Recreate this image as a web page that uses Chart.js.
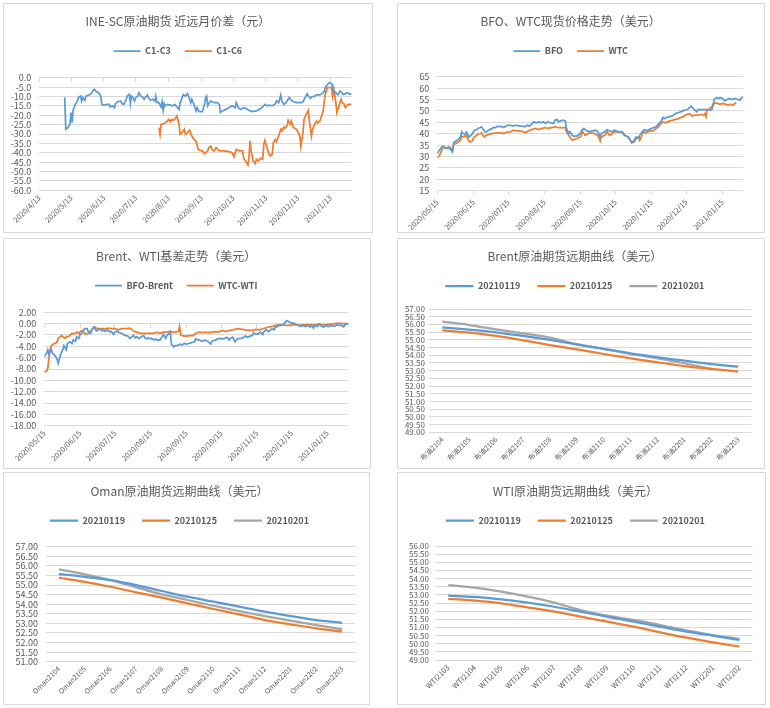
<!DOCTYPE html>
<html lang="zh">
  <head>
    <meta charset="UTF-8" />
    <script src="https://cdn.jsdelivr.net/npm/chart.js"></script>
    <title>原油期货价差与远期曲线</title>
    <style>
      body { margin: 0; background: #fff; width: 770px; height: 708px; position: relative; overflow: hidden; }
      .panel { position: absolute; border: 1px solid #d9d9d9; }
      .panel canvas { display: block; }
    </style>
  </head>
  <body>
    <div class="panel" style="left: 3px; top: 3px"><canvas id="c1" width="368" height="228"></canvas></div>
    <div class="panel" style="left: 397px; top: 3px"><canvas id="c2" width="366" height="228"></canvas></div>
    <div class="panel" style="left: 3px; top: 238px"><canvas id="c3" width="366" height="229"></canvas></div>
    <div class="panel" style="left: 397px; top: 238px"><canvas id="c4" width="366" height="229"></canvas></div>
    <div class="panel" style="left: 3px; top: 472px"><canvas id="c5" width="365" height="231"></canvas></div>
    <div class="panel" style="left: 397px; top: 472px"><canvas id="c6" width="367" height="231"></canvas></div>

    <script>
      // ---------- data ----------
      // INE-SC spreads, [days since 2020/4/13, value]
      const scStart = "2020/4/13";
      const scTicks = ["2020/4/13", "2020/5/13", "2020/6/13", "2020/7/13", "2020/8/13", "2020/9/13", "2020/10/13", "2020/11/13", "2020/12/13", "2021/1/13"];
      const scC1C3 = [[24,-10.6],[25,-27.5],[27,-26.6],[29,-24.8],[30,-18.6],[31,-24],[32,-16.9],[33,-16],[34,-14.2],[36,-12.4],[37,-10.6],[39,-9.8],[40,-12.4],[41,-10.6],[43,-12],[44,-9.8],[47,-9.2],[49,-8.5],[51,-6.7],[52,-6.2],[54,-7.5],[56,-8],[58,-9.8],[59,-14.2],[61,-14.7],[64,-14.2],[66,-14.2],[67,-15.6],[69,-15],[71,-16],[72,-13.7],[74,-12.8],[77,-12.4],[78,-13.8],[80,-14.2],[82,-11.5],[83,-9.8],[85,-8.9],[86,-13.8],[87,-9.8],[88,-10.3],[90,-12.4],[91,-10.6],[93,-9.8],[94,-8],[96,-9.8],[98,-10.6],[99,-11.5],[102,-9.2],[103,-10.6],[105,-12],[107,-11.5],[109,-12.4],[110,-9.8],[111,-13.3],[113,-13.3],[115,-15.6],[116,-12.8],[117,-17.4],[118,-13.8],[119,-15],[121,-14.2],[124,-14.6],[126,-15],[128,-14.2],[130,-15.6],[132,-16.9],[133,-13.3],[136,-8.9],[138,-9.8],[140,-8.5],[142,-11.5],[143,-13.3],[144,-11.5],[146,-14.2],[148,-17.7],[149,-16],[151,-18.1],[154,-18.1],[156,-14.2],[157,-10.6],[158,-9.8],[159,-15],[161,-12.8],[162,-12.4],[165,-13.3],[168,-13.3],[170,-14.2],[171,-18.6],[173,-17.7],[176,-16.9],[179,-16],[182,-15],[185,-16],[186,-13.3],[188,-16],[190,-16.9],[193,-16],[195,-16.3],[198,-17.4],[201,-18.1],[205,-17.7],[208,-16.9],[211,-15.6],[213,-14.2],[215,-15],[217,-14.6],[220,-15],[223,-13.8],[224,-12.4],[226,-13.3],[228,-9.2],[229,-12.4],[231,-14.2],[233,-13.3],[235,-11.5],[236,-10.6],[238,-12],[240,-12.8],[243,-13.3],[245,-13.3],[247,-13.3],[249,-12.8],[251,-10.6],[253,-8.5],[254,-9.8],[256,-11],[257,-10.3],[260,-9.8],[262,-9.2],[265,-9.2],[267,-8.5],[269,-7.5],[270,-5.3],[272,-3.6],[274,-2.6],[276,-3.2],[277,-6.2],[279,-7.5],[281,-8.5],[282,-9.2],[284,-7.1],[285,-7.5],[287,-8.9],[289,-8.5],[291,-8],[292,-8.5],[295,-8.9]];
      const scC1C6 = [[113,-26.6],[114,-30.2],[115,-24.9],[117,-24.5],[119,-24],[121,-23.1],[122,-22.2],[124,-23.4],[125,-22.2],[127,-22.7],[129,-21.3],[130,-20.4],[132,-24.9],[133,-30.2],[135,-29.3],[137,-27.5],[138,-30.2],[140,-29.3],[142,-28],[144,-31.1],[146,-32.8],[148,-33.7],[150,-38.2],[152,-38.7],[154,-39],[156,-40.5],[159,-39],[160,-37.3],[162,-36.4],[163,-38.2],[165,-39],[167,-37.3],[170,-39],[174,-39],[179,-39.4],[182,-39.9],[184,-42.2],[186,-38.2],[189,-39],[192,-39],[193,-42.9],[195,-44.7],[197,-46.5],[198,-42.6],[199,-33.7],[200,-39],[202,-44.4],[204,-45.8],[205,-43.5],[207,-44.4],[209,-42.9],[211,-43.5],[212,-35.5],[213,-33.4],[215,-37.3],[217,-40.8],[218,-41.7],[220,-40.8],[221,-34.6],[223,-32.8],[224,-34.1],[226,-31.1],[228,-27.5],[229,-28.4],[231,-26.3],[232,-27],[234,-25.7],[235,-22.7],[237,-24.9],[238,-23.1],[240,-26.6],[243,-27.5],[244,-28.8],[246,-31.1],[247,-36.4],[249,-29.3],[250,-22.2],[252,-19.5],[254,-17.4],[255,-23.1],[257,-31.1],[258,-27.5],[260,-24.9],[262,-23.1],[263,-24],[265,-23.1],[266,-21.3],[268,-17.7],[269,-13.3],[270,-8.9],[272,-5.3],[274,-5.3],[276,-5.3],[277,-9.8],[278,-5.7],[280,-13.3],[281,-18.6],[283,-15],[285,-11.5],[286,-13.3],[288,-14.2],[289,-16],[291,-14.6],[293,-14.2],[295,-14.2]];

      // BFO / WTC spot and basis, [days since 2020/5/15, value]
      const spotStart = "2020/5/15";
      const spotTicks = ["2020/05/15", "2020/06/15", "2020/07/15", "2020/08/15", "2020/09/15", "2020/10/15", "2020/11/15", "2020/12/15", "2021/01/15"];
      const bfo = [[0,31.3],[2,33],[4,34.2],[5,34.5],[7,33.5],[9,33.9],[10,33.9],[12,32.7],[13,32],[14,36],[16,36.8],[18,37.4],[20,38.6],[21,40.8],[22,40.1],[24,39.8],[25,40.8],[27,38.6],[28,38.9],[30,39.8],[31,40.8],[32,41.5],[34,41.8],[35,42.3],[37,42.7],[38,43],[40,41.5],[41,40.8],[42,40.8],[44,41.5],[45,41.8],[47,42.3],[48,42.7],[50,42.7],[51,43],[52,43.3],[54,43],[55,43.3],[57,42.7],[58,43],[60,43.7],[63,43.7],[65,43.3],[67,43.7],[69,43.7],[71,43.3],[73,43.3],[75,43],[77,43.7],[79,43.3],[81,44.2],[83,45.2],[85,44.8],[87,45.2],[89,44.8],[91,45.2],[93,44.5],[95,45.2],[97,44.8],[100,44.5],[101,45.9],[103,46.2],[104,45.2],[106,45.6],[108,45.9],[110,45.6],[111,42.3],[113,40.1],[114,40.8],[116,39.3],[117,38.9],[120,38.9],[121,39.3],[123,40.1],[124,41.5],[126,42.3],[127,41.8],[130,40.8],[133,41.2],[136,41.5],[138,40.8],[140,38.6],[141,40.1],[144,40.8],[146,41.8],[148,41.2],[150,40.8],[152,41.5],[154,41.2],[156,40.8],[159,40.8],[160,40.1],[161,39.3],[164,38.6],[166,37.1],[167,36.4],[169,36.8],[170,37.9],[171,38.6],[173,37.9],[174,39.3],[176,40.8],[178,41.8],[180,41.2],[182,41.8],[184,42.3],[186,42.7],[188,43],[190,44.2],[192,45.2],[194,47.1],[195,46.6],[197,47.1],[199,47.4],[201,47.7],[203,48.1],[205,48.9],[207,49.2],[209,49.6],[211,50],[212,50.3],[215,50.6],[217,51.5],[218,52.1],[219,51.5],[221,50.6],[223,49.6],[224,50.6],[226,50.6],[229,50.6],[232,50.6],[234,50.3],[236,50.6],[237,52.5],[238,55],[240,55.9],[242,55.5],[243,55.9],[245,55.5],[247,54.4],[249,55],[251,55.5],[253,55],[256,55.5],[258,55],[260,54.7],[261,55.5],[263,56.2]];
      const wtc = [[0,29.5],[2,30.5],[4,33],[5,34.2],[7,33.9],[9,33.5],[10,34.2],[12,33.5],[13,32.4],[14,35.4],[16,35.7],[18,36.4],[20,37.1],[21,38.9],[22,38.6],[24,38.9],[25,39.3],[27,36.8],[28,36.4],[30,36.8],[31,37.9],[32,38.6],[34,39.3],[35,39.8],[37,40.1],[38,40.4],[40,38.6],[41,38.9],[42,39.3],[45,39.8],[48,40.1],[51,40.4],[54,40.4],[57,40.1],[60,40.7],[63,40.8],[65,41.5],[68,41.2],[71,41.2],[74,40.8],[76,40.4],[78,41.2],[81,41.8],[84,42.3],[87,41.8],[90,42.3],[93,42.7],[95,42.3],[98,42.7],[101,43],[104,42.7],[107,42.7],[110,42.7],[111,40.8],[114,38.6],[116,37.1],[117,37.4],[120,37.9],[123,38.6],[125,40.8],[127,39.3],[130,40.1],[133,40.4],[136,39.8],[138,39.3],[140,36.8],[141,38.6],[144,39.3],[146,40.8],[148,39.3],[150,39.8],[152,40.8],[154,40.8],[157,40.8],[159,40.4],[161,39.3],[163,38.9],[165,37.9],[167,36],[169,36.4],[170,37.1],[171,37.9],[173,38.6],[174,37.1],[176,39.3],[177,40.8],[179,40.4],[181,40.8],[183,41.2],[185,41.2],[187,41.8],[190,43],[192,44.2],[194,45.2],[196,44.8],[198,45.2],[200,45.6],[202,45.9],[204,46.2],[207,46.6],[209,47.1],[211,47.4],[213,48.1],[215,48.5],[217,48.8],[219,47.7],[221,48.1],[224,48.1],[227,48.5],[229,48.1],[230,48.8],[231,47.4],[232,50.3],[234,51],[236,51.8],[237,52.9],[239,53.5],[241,53.3],[243,52.9],[245,53.3],[248,52.9],[250,52.5],[252,52.9],[254,52.5],[256,53.3],[257,53.5]];
      const bfoBrent = [[0,-5.8],[2,-5.2],[3,-4.6],[4,-5.4],[6,-4.5],[7,-5.2],[9,-5.6],[11,-6.2],[12,-7],[14,-5.5],[16,-4.6],[17,-3.9],[19,-4.6],[20,-3.5],[22,-3.2],[24,-3.5],[25,-2.9],[27,-3.1],[28,-2.3],[30,-2.6],[31,-1.9],[32,-1.8],[34,-1.1],[35,-0.9],[37,-0.9],[38,-1.4],[40,-1.7],[41,-1.1],[43,-0.6],[44,-0.9],[45,-1.3],[47,-1.1],[48,-0.9],[50,-1.3],[51,-1.1],[53,-1.4],[54,-1.1],[56,-1.3],[57,-1.5],[58,-1.4],[60,-1.9],[61,-1.5],[63,-1.3],[64,-1.5],[67,-1.7],[69,-2],[71,-2.1],[73,-2.3],[74,-2.6],[76,-2.3],[77,-2.1],[79,-2.5],[80,-2.3],[82,-2.6],[84,-2.3],[86,-2.1],[87,-2.5],[89,-2.7],[90,-2.5],[92,-2.7],[93,-2.6],[95,-2.9],[96,-2.7],[98,-2.9],[100,-2.9],[102,-2.3],[103,-1.9],[105,-2.6],[106,-2.1],[108,-1.7],[109,-1.5],[110,-3.6],[112,-4.1],[113,-3.9],[116,-3.8],[118,-3.6],[119,-3.8],[121,-3.5],[123,-3.6],[125,-3.5],[128,-3.3],[130,-3.2],[131,-2.7],[134,-2.9],[137,-3.1],[139,-2.9],[142,-3.2],[144,-3.6],[145,-3.1],[148,-2.9],[150,-2.7],[152,-2.6],[154,-2.7],[156,-2.6],[158,-2.4],[160,-2.9],[161,-2.6],[163,-2.4],[165,-3.2],[167,-2.7],[169,-2.6],[171,-2.6],[174,-2.2],[176,-2.4],[178,-2.2],[180,-2.1],[181,-1.6],[183,-1.9],[185,-1.8],[187,-1.5],[189,-1.9],[190,-1.4],[192,-1.1],[194,-1.4],[197,-0.9],[199,-1.1],[200,-0.6],[202,-0.5],[203,-0.3],[205,-0.3],[207,-0.1],[209,0.4],[210,0.5],[212,0.3],[214,0.1],[216,0.1],[218,-0.2],[220,-0.3],[222,-0.5],[223,-0.3],[226,-0.5],[228,-0.3],[230,-0.6],[231,-0.3],[233,-0.8],[234,-0.3],[236,-0.5],[238,-0.1],[240,-0.5],[242,-0.6],[244,-0.3],[246,-0.5],[249,-0.3],[251,-0.5],[253,-0.2],[255,-0.3],[257,-0.3],[259,-0.6],[260,-0.2],[262,-0.1],[264,0]];
      const wtcWti = [[0,-8.5],[2,-8.4],[3,-7.9],[4,-6.1],[5,-4.6],[6,-3.9],[8,-3.6],[9,-3.5],[11,-3.3],[12,-2.6],[14,-2.3],[15,-2.1],[17,-2.5],[18,-2.6],[19,-2.3],[21,-2.3],[22,-2.1],[24,-1.7],[25,-1.8],[27,-1.7],[28,-1.5],[30,-1.7],[31,-1.4],[32,-1.3],[34,-1.4],[35,-1.8],[37,-1.8],[38,-1.7],[41,-1.1],[43,-0.6],[44,-0.6],[45,-0.8],[47,-0.9],[50,-0.9],[53,-0.9],[56,-0.8],[58,-0.9],[61,-0.9],[64,-1.1],[67,-0.9],[70,-0.9],[73,-0.8],[75,-0.9],[77,-1.3],[80,-1.5],[83,-1.7],[86,-1.7],[89,-1.7],[92,-1.7],[95,-1.7],[97,-1.5],[100,-1.7],[103,-1.5],[106,-1.5],[108,-1.4],[109,-1.3],[110,-1.5],[113,-1.5],[116,-1.4],[117,-0.5],[118,-2],[121,-2.2],[123,-2.2],[126,-2.1],[129,-2.1],[131,-1.7],[134,-1.5],[137,-1.6],[139,-1.5],[142,-1.6],[145,-1.5],[148,-1.4],[151,-1.5],[154,-1.2],[157,-1.4],[160,-1.2],[163,-1.1],[165,-1],[168,-0.9],[171,-1],[174,-1.1],[177,-1.2],[180,-1.2],[183,-1],[186,-1.1],[189,-0.9],[191,-0.8],[194,-0.6],[197,-0.5],[200,-0.3],[203,-0.2],[206,-0.2],[209,-0.3],[212,-0.3],[215,-0.2],[217,-0.2],[220,-0.3],[223,-0.2],[226,-0.2],[229,-0.2],[232,-0.2],[235,-0.2],[238,-0.1],[241,-0.2],[244,-0.2],[246,-0.1],[249,-0.1],[252,0.05],[255,0.05],[258,0],[261,0],[264,0]];

      // forward curves
      const curveDates = ["20210119", "20210125", "20210201"];
      const brentMonths = ["布油2104", "布油2105", "布油2106", "布油2107", "布油2108", "布油2109", "布油2110", "布油2111", "布油2112", "布油2201", "布油2202", "布油2203"];
      const brent0119 = [55.81, 55.66, 55.49, 55.25, 54.99, 54.71, 54.41, 54.12, 53.87, 53.65, 53.43, 53.26];
      const brent0125 = [55.62, 55.46, 55.25, 54.97, 54.66, 54.38, 54.08, 53.8, 53.54, 53.3, 53.11, 52.94];
      const brent0201 = [56.18, 55.96, 55.68, 55.42, 55.14, 54.71, 54.41, 54.08, 53.8, 53.48, 53.11, null];
      const omanMonths = ["Oman2104", "Oman2105", "Oman2106", "Oman2107", "Oman2108", "Oman2109", "Oman2110", "Oman2111", "Oman2112", "Oman2201", "Oman2202", "Oman2203"];
      const oman0119 = [55.57, 55.43, 55.26, 55.0, 54.69, 54.39, 54.13, 53.87, 53.61, 53.38, 53.17, 53.03];
      const oman0125 = [55.38, 55.17, 54.91, 54.62, 54.34, 54.04, 53.75, 53.47, 53.17, 52.95, 52.74, 52.57];
      const oman0201 = [55.82, 55.56, 55.26, 54.88, 54.51, 54.22, 53.92, 53.64, 53.38, 53.14, 52.91, 52.7];
      const wtiMonths = ["WTI2103", "WTI2104", "WTI2105", "WTI2106", "WTI2107", "WTI2108", "WTI2109", "WTI2110", "WTI2111", "WTI2112", "WTI2201", "WTI2202"];
      const wti0119 = [52.95, 52.87, 52.72, 52.52, 52.27, 51.97, 51.66, 51.35, 51.05, 50.74, 50.49, 50.23];
      const wti0125 = [52.75, 52.64, 52.48, 52.23, 51.97, 51.66, 51.35, 51.05, 50.7, 50.37, 50.08, 49.82];
      const wti0201 = [53.6, 53.44, 53.2, 52.89, 52.52, 52.07, 51.72, 51.46, 51.15, 50.82, 50.53, 50.29];

      // ---------- styling ----------
      const BLUE = "#5b9bd5", ORANGE = "#ed7d31", GRAY = "#a5a5a5";
      const GRID = "#d9d9d9", TXT = "#595959";
      Chart.defaults.font.family = "'Noto Sans CJK SC', 'Noto Sans', sans-serif";
      Chart.defaults.color = TXT;

      function dayOf(s, start) {
        const p = s.split("/").map(Number), q = start.split("/").map(Number);
        return Math.round((Date.UTC(p[0], p[1] - 1, p[2]) - Date.UTC(q[0], q[1] - 1, q[2])) / 864e5);
      }

      // date axis as linear days, ticks on the monthly labels
      function timeAxis(start, labels, end, showTicks) {
        const days = labels.map((t) => dayOf(t, start));
        return {
          type: "linear", min: 0, max: dayOf(end, start),
          afterBuildTicks: (s) => { s.ticks = days.map((v) => ({ value: v })); },
          ticks: { autoSkip: false, minRotation: 45, maxRotation: 45, padding: 3, font: { size: 7.5 }, callback: (v, i) => labels[i] },
          grid: { display: showTicks, drawOnChartArea: false, drawTicks: showTicks, tickLength: 4, color: GRID },
          border: { display: false },
        };
      }

      // tick marks on the zero line (category axis crosses at 0)
      function zeroTicks(start, labels, end) {
        const days = labels.map((t) => dayOf(t, start));
        return {
          axis: "x", type: "linear", position: { y: 0 }, min: 0, max: dayOf(end, start),
          afterBuildTicks: (s) => { s.ticks = days.map((v) => ({ value: v })); },
          ticks: { display: false },
          grid: { drawOnChartArea: false, drawTicks: true, tickLength: 4, color: GRID },
          border: { display: false },
        };
      }

      function catAxis(fs) {
        return {
          type: "category", offset: true,
          ticks: { autoSkip: false, minRotation: 45, maxRotation: 45, padding: 3, font: { size: fs } },
          grid: { display: false, drawTicks: false },
          border: { display: false },
        };
      }

      function series(label, data, color, width, smooth) {
        return {
          label: label, data: data, borderColor: color, backgroundColor: color,
          borderWidth: width, pointRadius: 0, xAxisID: "x", yAxisID: "y",
          tension: 0, cubicInterpolationMode: smooth ? "monotone" : "default",
        };
      }

      const pts = (arr) => arr.map(([x, y]) => ({ x: x, y: y }));

      function build(id, o) {
        const el = document.getElementById(id);
        const fsL = 9;
        const lp = o.itemGap;
        const titleBottom = o.legendY - fsL / 2 - lp - (o.titleY + 7.2);
        const gap = o.top - (o.legendY + fsL / 2 + 10);
        const x = o.x;
        x.afterFit = (s) => { s.height = el.height - o.bottom; };
        const scales = {
          x: x,
          y: {
            min: o.yMin, max: o.yMax,
            ticks: { stepSize: o.yStep, autoSkip: false, maxTicksLimit: 100, padding: o.yPad, font: { size: o.yFont }, callback: (v) => v.toFixed(o.yDec) },
            grid: { color: GRID, drawTicks: false },
            border: { display: false },
            afterFit: (s) => { s.width = o.left; },
          },
          gap: {
            axis: "x", type: "linear", position: "top", min: 0, max: 1,
            ticks: { display: false }, grid: { display: false, drawTicks: false }, border: { display: false },
            afterFit: (s) => { s.height = gap; },
          },
        };
        if (o.xt) scales.xt = o.xt;
        return new Chart(el, {
          type: "line",
          data: { labels: o.labels, datasets: o.datasets },
          options: {
            responsive: false,
            animation: false,
            layout: { autoPadding: false, padding: { left: 0, top: 0, bottom: 0, right: el.width - o.right } },
            plugins: {
              title: { display: true, text: o.title, color: TXT, font: { size: 12, weight: "normal" }, padding: { top: o.titleY - 7.2, bottom: titleBottom } },
              legend: {
                labels: { usePointStyle: true, pointStyle: "line", pointStyleWidth: o.boxW, padding: lp, color: TXT, font: { size: fsL, weight: "bold" } },
              },
              tooltip: { enabled: false },
            },
            scales: scales,
          },
        });
      }

      build("c1", {
        title: "INE-SC原油期货 近远月价差（元）",
        titleY: 17.7, legendY: 47, top: 73.7, bottom: 186.3, left: 35.3, right: 347.7, itemGap: 14, boxW: 27,
        x: timeAxis(scStart, scTicks, "2021/2/2", false),
        xt: zeroTicks(scStart, scTicks, "2021/2/2"),
        yMin: -60, yMax: 0, yStep: 5, yDec: 1, yFont: 9, yPad: 8,
        datasets: [series("C1-C3", pts(scC1C3), BLUE, 1.75), series("C1-C6", pts(scC1C6), ORANGE, 1.75)],
      });

      build("c2", {
        title: "BFO、WTC现货价格走势（美元）",
        titleY: 17.7, legendY: 47, top: 72.7, bottom: 186.7, left: 39.3, right: 345.3, itemGap: 14, boxW: 27,
        x: timeAxis(spotStart, spotTicks, "2021/2/2", true),
        yMin: 15, yMax: 65, yStep: 5, yDec: 0, yFont: 9, yPad: 8,
        datasets: [series("BFO", pts(bfo), BLUE, 1.75), series("WTC", pts(wtc), ORANGE, 1.75)],
      });

      build("c3", {
        title: "Brent、WTI基差走势（美元）",
        titleY: 17.7, legendY: 46.7, top: 73.3, bottom: 186.7, left: 40.3, right: 344.3, itemGap: 14, boxW: 27,
        x: timeAxis(spotStart, spotTicks, "2021/2/2", false),
        xt: zeroTicks(spotStart, spotTicks, "2021/2/2"),
        yMin: -18, yMax: 2, yStep: 2, yDec: 2, yFont: 9, yPad: 8,
        datasets: [series("BFO-Brent", pts(bfoBrent), BLUE, 1.75), series("WTC-WTI", pts(wtcWti), ORANGE, 1.75)],
      });

      build("c4", {
        title: "Brent原油期货远期曲线（美元）",
        titleY: 17.7, legendY: 47, top: 70, bottom: 193.3, left: 30.9, right: 353.7, itemGap: 17, boxW: 28,
        x: catAxis(7), labels: brentMonths,
        yMin: 49, yMax: 57, yStep: 0.5, yDec: 2, yFont: 8, yPad: 4,
        datasets: [series(curveDates[0], brent0119, BLUE, 2.25, true), series(curveDates[1], brent0125, ORANGE, 2.25, true), series(curveDates[2], brent0201, GRAY, 2.25, true)],
      });

      build("c5", {
        title: "Oman原油期货远期曲线（美元）",
        titleY: 18, legendY: 47.7, top: 73.7, bottom: 188.7, left: 42, right: 351, itemGap: 17, boxW: 28,
        x: catAxis(7), labels: omanMonths,
        yMin: 51, yMax: 57, yStep: 0.5, yDec: 2, yFont: 9, yPad: 8,
        datasets: [series(curveDates[0], oman0119, BLUE, 2.25, true), series(curveDates[1], oman0125, ORANGE, 2.25, true), series(curveDates[2], oman0201, GRAY, 2.25, true)],
      });

      build("c6", {
        title: "WTI原油期货远期曲线（美元）",
        titleY: 18, legendY: 47.7, top: 73, bottom: 187, left: 37, right: 354.7, itemGap: 17, boxW: 28,
        x: catAxis(7.5), labels: wtiMonths,
        yMin: 49, yMax: 56, yStep: 0.5, yDec: 2, yFont: 8, yPad: 6,
        datasets: [series(curveDates[0], wti0119, BLUE, 2.25, true), series(curveDates[1], wti0125, ORANGE, 2.25, true), series(curveDates[2], wti0201, GRAY, 2.25, true)],
      });
    </script>
  </body>
</html>
